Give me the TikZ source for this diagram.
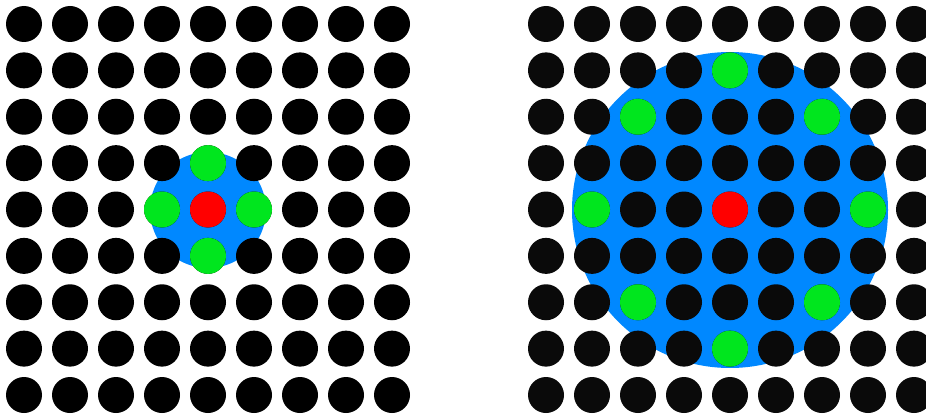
\documentclass[tikz,border=0pt]{standalone}
\definecolor{dotblack}{RGB}{0,0,0}
\definecolor{dotdark}{RGB}{10,10,10}
\definecolor{zoneblue}{RGB}{0,136,255}
\definecolor{nbgreen}{RGB}{0,230,30}
\definecolor{ctrred}{RGB}{255,0,0}
\tikzset{
  dot/.style={circle,inner sep=0pt,minimum size=36pt,fill=#1},
}
\begin{document}
\begin{tikzpicture}[x=1pt,y=-1pt]
\useasboundingbox (0,0) rectangle (926,417);
% blue zones
\fill[zoneblue] (208,210) circle (58);
\fill[zoneblue] (730,210) circle (158);
% grids
\foreach \i in {0,...,8}{
  \foreach \j in {0,...,8}{
    \pgfmathsetmacro{\yy}{24+46.375*\j}
    \pgfmathsetmacro{\xl}{24+46*\i}
    \pgfmathsetmacro{\xr}{546+46*\i}
    \node[dot=dotblack] (L-\i-\j) at (\xl,\yy) {};
    \node[dot=dotdark] (R-\i-\j) at (\xr,\yy) {};
  }
}
% left highlights
\node[dot=ctrred] (lc) at (L-4-4) {};
\foreach \p in {3-4,5-4,4-3,4-5}{
  \node[dot=nbgreen] (lg-\p) at (L-\p) {};
}
% right highlights
\node[dot=ctrred] (rc) at (R-4-4) {};
\foreach \p in {4-1,2-2,6-2,1-4,7-4,2-6,6-6,4-7}{
  \node[dot=nbgreen] (rg-\p) at (R-\p) {};
}
\end{tikzpicture}
\end{document}
